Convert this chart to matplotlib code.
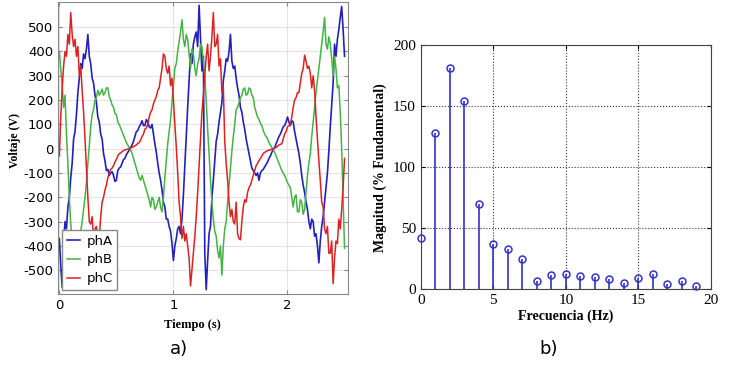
import matplotlib
matplotlib.use("Agg")
import matplotlib.pyplot as plt
import numpy as np

plt.rcParams["axes.unicode_minus"] = False

# sample clock of the traces (s), one row of values below = 0.1 s
t = np.arange(201) * 0.0125

ph_a = [-370, -480, -570, -380, -300, -330, -240, -200,
        -120, -60, 40, 70, 140, 230, 290, 350,
        330, 390, 370, 410, 470, 380, 350, 290,
        270, 220, 190, 130, 110, 60, 40, -20,
        -50, -90, -85, -110, -100, -95, -110, -135,
        -130, -90, -80, -75, -60, -45, -40, -25,
        -15, -5, 5, 15, 30, 50, 70, 75,
        90, 100, 115, 95, 95, 120, 110, 90,
        85, 100, 60, 20, -15, -60, -100, -130,
        -170, -220, -240, -290, -290, -320, -340, -390,
        -460, -400, -370, -330, -320, -350, -290, -190,
        -70, 50, 170, 280, 390, 350, 430, 460,
        480, 420, 590, 450, 320, 380, -430, -580,
        -460, -350, -320, -200, -130, -50, 30, 60,
        110, 150, 190, 280, 320, 370, 360, 400,
        470, 360, 330, 340, 290, 250, 220, 170,
        150, 110, 80, 40, 10, -20, -50, -80,
        -90, -100, -110, -100, -130, -100, -90, -85,
        -75, -65, -55, -40, -30, -15, -5, 5,
        20, 35, 50, 60, 75, 90, 95, 110,
        130, 110, 95, 115, 110, 70, 40, 10,
        -20, -60, -110, -150, -180, -220, -250, -300,
        -330, -290, -300, -360, -350, -400, -470, -380,
        -320, -280, -220, -160, -100, -10, 90, 180,
        270, 430, 380, 450, 490, 540, 585, 490,
        380]

ph_b = [400, 330, 260, 170, 220, 60, -60, -200,
        -310, -380, -440, -470, -490, -450, -400, -340,
        -300, -250, -200, -140, -60, 10, 90, 140,
        160, 200, 210, 240, 220, 230, 245, 220,
        230, 250, 250, 215, 200, 180, 170, 145,
        140, 110, 100, 85, 70, 55, 40, 25,
        15, 5, -5, -20, -40, -60, -80, -100,
        -120, -130, -110, -130, -150, -170, -190, -210,
        -240, -200, -210, -250, -240, -220, -200, -240,
        -260, -200, -120, -50, 20, 70, 120, 190,
        260, 330, 350, 400, 440, 480, 530, 450,
        420, 470, 450, 390, 330, 410, 390, 330,
        300, 350, 370, 430, 420, 360, 300, 200,
        80, -20, -130, -220, -290, -340, -360, -420,
        -450, -400, -520, -400, -330, -300, -220, -150,
        -80, -10, 50, 100, 160, 170, 190, 210,
        220, 245, 250, 220, 225, 250, 245, 220,
        210, 170, 150, 130, 120, 105, 95, 75,
        60, 50, 40, 25, 15, 5, -5, -15,
        -30, -45, -60, -75, -90, -100, -110, -125,
        -140, -150, -160, -200, -240, -200, -190, -260,
        -260, -210, -220, -270, -250, -180, -110, -60,
        -20, 50, 110, 170, 230, 280, 330, 380,
        430, 480, 540, 430, 410, 460, 430, 370,
        300, 380, 330, 250, 260, 150, 0, -200,
        -410]

ph_c = [-30, 130, 250, 340, 400, 380, 470, 430,
        560, 470, 420, 450, 380, 420, 300, 340,
        240, 150, 40, -80, -200, -300, -310, -280,
        -370, -330, -320, -380, -370, -280, -220, -200,
        -170, -150, -120, -100, -85, -80, -70, -55,
        -45, -30, -20, -18, -12, -8, -5, -3,
        -2, 0, 3, 5, 8, 12, 15, 22,
        25, 35, 50, 60, 80, 85, 100, 130,
        150, 160, 185, 200, 215, 240, 250, 290,
        330, 390, 380, 330, 310, 340, 260, 290,
        200, 100, 10, -100, -220, -280, -370, -320,
        -380, -350, -400, -450, -565, -500, -430, -360,
        -280, -180, -70, 40, 150, 220, 300, 380,
        430, 320, 380, 460, 560, 420, 430, 470,
        340, 370, 230, 250, 30, -60, -130, -220,
        -280, -250, -300, -310, -220, -350, -370, -375,
        -300, -240, -210, -220, -180, -160, -150, -130,
        -110, -90, -70, -60, -50, -40, -30, -20,
        -15, -12, -8, -6, -5, -2, 0, 3,
        5, 10, 15, 18, 20, 40, 60, 70,
        90, 95, 100, 130, 170, 200, 210, 230,
        230, 270, 310, 330, 385, 360, 330, 340,
        310, 250, 300, 240, 130, 40, -50, -130,
        -220, -240, -330, -350, -320, -430, -430, -380,
        -555, -450, -380, -390, -290, -330, -250, -160,
        -40]

freq = list(range(20))
magnitude = [41.7, 127.7, 181.4, 154.2, 69.6, 37.1, 33.0, 24.6, 7.1, 11.7,
             12.8, 11.2, 10.4, 8.2, 5.2, 9.5, 12.3, 4.1, 6.8, 3.0]

fig = plt.figure(figsize=(7.31, 3.75), dpi=100)

# a) three-phase voltages
ax1 = fig.add_axes([0.0793, 0.216, 0.3967, 0.779])
ax1.plot(t, ph_a, color="#2222bb", lw=1.2, label="phA")
ax1.plot(t, ph_b, color="#44b444", lw=1.1, label="phB")
ax1.plot(t, ph_c, color="#dd2222", lw=1.1, label="phC")
ax1.set_xlim(-0.012, 2.53)
ax1.set_ylim(-598, 604)
ax1.set_xticks([0, 1, 2])
ax1.set_yticks(range(-500, 501, 100))
ax1.grid(True, color="#e4e4e4", lw=0.8)
ax1.set_axisbelow(True)
ax1.tick_params(direction="in", length=3, color="#888888", labelsize=9.5,
                top=True, right=True)
for sp in ax1.spines.values():
    sp.set_color("#888888")
ax1.set_xlabel("Tiempo (s)", family="Liberation Serif", weight="bold",
               fontsize=9)
ax1.xaxis.set_label_coords(0.462, -0.085)
ax1.set_ylabel("Voltaje (V)", family="Liberation Serif", weight="bold",
               fontsize=8.5)
ax1.yaxis.set_label_coords(-0.128, 0.527)
leg = ax1.legend(loc="lower left", fontsize=9.5, handlelength=1.0,
                 borderpad=0.35, labelspacing=0.45, handletextpad=0.5,
                 borderaxespad=0.3, fancybox=False, framealpha=1)
leg.get_frame().set_edgecolor("#888888")

# b) harmonic spectrum
ax2 = fig.add_axes([0.5755, 0.2285, 0.3971, 0.6515])
ml, sl, bl = ax2.stem(freq, magnitude, basefmt=" ")
plt.setp(sl, color="#3333cc", lw=1.2)
plt.setp(ml, marker="o", markersize=5, markerfacecolor="none",
         markeredgecolor="#3333cc", markeredgewidth=1.1, clip_on=False)
ax2.set_xlim(0, 20)
ax2.set_ylim(0, 200)
ax2.set_xticks(range(0, 21, 5))
ax2.set_yticks(range(0, 201, 50))
ax2.grid(True, color="#333333", ls=":", lw=0.8)
ax2.tick_params(direction="in", length=3, top=True, right=True, labelsize=11)
for lab in ax2.get_xticklabels() + ax2.get_yticklabels():
    lab.set_family("Liberation Serif")
for sp in ax2.spines.values():
    sp.set_color("#444444")
ax2.set_xlabel("Frecuencia (Hz)", family="Liberation Serif", weight="bold",
               fontsize=10, labelpad=2)
ax2.set_ylabel("Magnitud (% Fundamental)", family="Liberation Serif",
               weight="bold", fontsize=10, labelpad=4)

fig.text(0.245, 0.069, "a)", fontsize=13, ha="center", va="center")
fig.text(0.750, 0.069, "b)", fontsize=13, ha="center", va="center")

fig.savefig("out.png", dpi=100)
